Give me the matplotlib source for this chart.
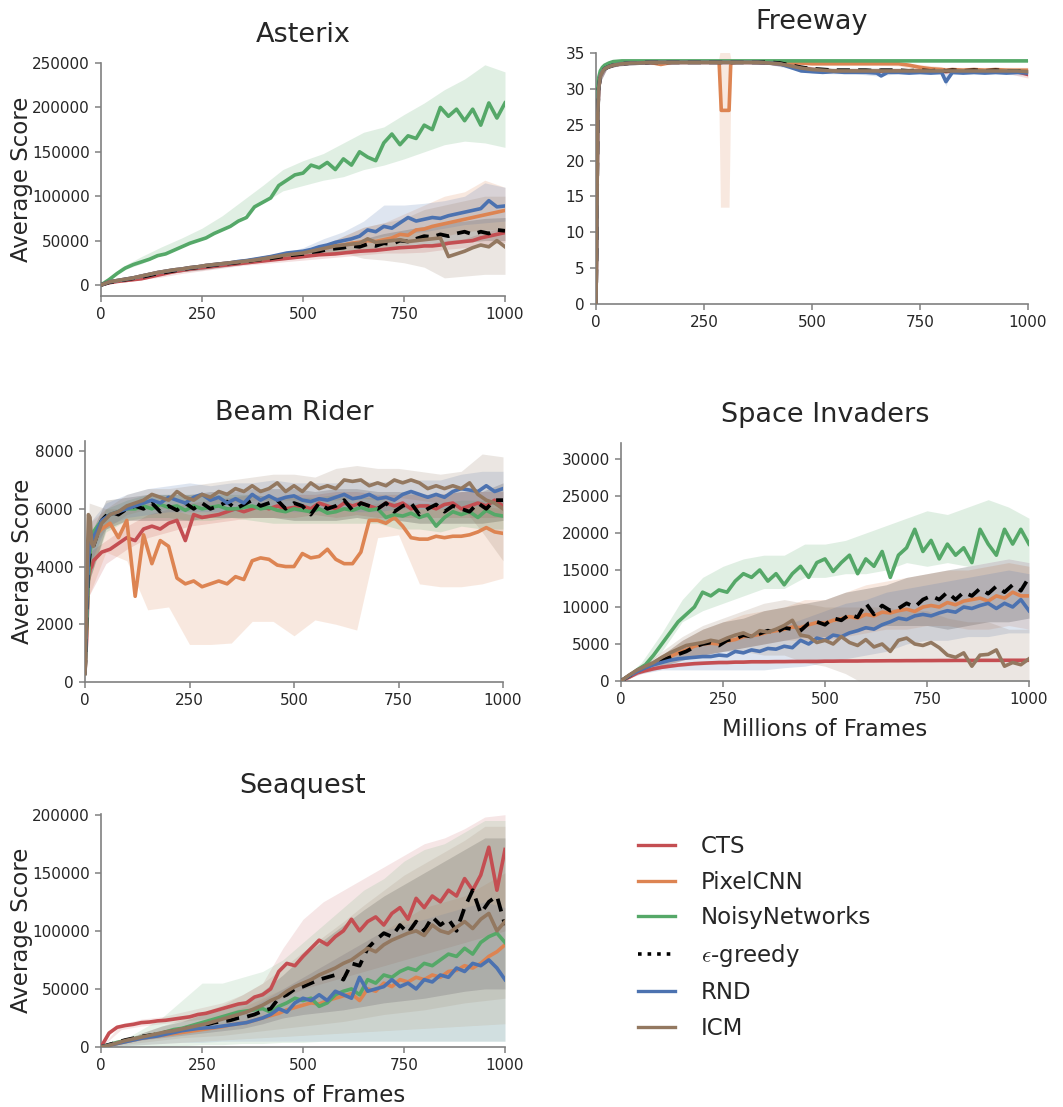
import numpy as np
import matplotlib.pyplot as plt
from matplotlib.lines import Line2D

plt.rcParams['mathtext.fontset'] = 'cm'

# ── Colours (seaborn "deep") ──
C_CTS = '#C44E52'
C_PIX = '#DD8452'
C_NOISY = '#55A868'
C_EPS = '#000000'
C_RND = '#4C72B0'
C_ICM = '#937860'
COLORS = [C_CTS, C_PIX, C_NOISY, C_EPS, C_RND, C_ICM]
LABELS = ['CTS', 'PixelCNN', 'NoisyNetworks', r'$\epsilon$-greedy', 'RND', 'ICM']

# ───────────────────────── Asterix (scores in thousands) ─────────────────────────
ast_frames = np.arange(0, 1001, 20)
ast_cts = [0, 2.5, 4, 5, 6, 7, 9, 11, 13, 15, 16.5, 18, 19, 20, 21, 22, 23, 24, 25, 26,
           27, 28, 29, 30, 31, 32, 33, 34, 34.5, 35, 36, 37, 38, 38.5, 39, 40, 41, 42, 42.5, 43,
           44, 44, 45, 47, 48, 49, 50, 53, 55, 57, 59]
ast_pix = [0, 3.5, 5, 6.5, 8, 10, 12, 14, 15.5, 17, 18, 19.5, 20.5, 22, 23, 24, 25, 26, 27, 28.5,
           30, 31.5, 33, 34.5, 36, 37, 39, 41, 42, 44, 45, 47, 48, 50, 49, 51, 53, 57, 56, 62,
           63, 66, 68, 70, 72, 74, 76, 78, 80, 82, 84]
ast_noisy = [0, 6, 13, 19, 23, 26, 29, 33, 35, 39, 43, 47, 50, 53, 58, 62, 66, 72, 76, 88,
             93, 98, 112, 118, 124, 126, 135, 132, 138, 130, 142, 135, 150, 144, 140, 160, 170, 158, 168, 165,
             180, 175, 200, 190, 198, 185, 198, 180, 205, 188, 205]
ast_eps = [0, 3, 4.5, 6, 7.5, 9, 11, 13, 14.5, 16, 17.5, 19, 20, 21, 22.5, 23.5, 24.5, 25.5, 26.5, 28,
           29, 30, 31.5, 33, 34, 35, 37, 38, 40, 41, 42, 44, 43, 46, 44, 47, 46, 50, 49, 52,
           55, 54, 57, 55, 58, 60, 57, 60, 58, 62, 61]
ast_rnd = [0, 3.5, 5, 6.5, 8, 10, 12, 14, 15.5, 17, 18, 19.5, 20.5, 22, 23, 24, 25, 26.5, 27.5, 29,
           30.5, 32, 34, 36, 37, 38, 40, 43, 45, 48, 50, 52, 55, 62, 60, 66, 64, 70, 76, 72,
           74, 76, 75, 78, 80, 82, 84, 86, 95, 88, 89]
ast_icm = [0, 3.5, 5, 6.5, 8, 10, 12, 14, 15.5, 17, 18, 19.5, 20.5, 22, 23, 24, 25, 26, 27, 28,
           29.5, 31, 32.5, 34, 35, 36, 38, 40, 42, 44, 45, 46, 47, 52, 48, 49, 50, 51, 49, 50,
           51, 52, 53, 32, 35, 38, 42, 45, 43, 50, 43]
ast_band_frames = np.arange(0, 1001, 50)
ast_cts_lo = [0, 3, 6, 9, 13, 16, 19, 22, 24, 26, 28, 30, 32, 34, 36, 36, 37, 40, 42, 45, 48]
ast_cts_hi = [0, 5, 9, 13, 17, 20, 23, 26, 28, 30, 33, 36, 38, 40, 42, 44, 45, 50, 52, 60, 64]
ast_pix_lo = [0, 4, 8, 12, 15, 18, 21, 24, 27, 30, 32, 35, 38, 40, 42, 46, 50, 55, 60, 62, 62]
ast_pix_hi = [0, 7, 13, 17, 20, 23, 26, 29, 32, 36, 40, 44, 55, 65, 70, 80, 90, 100, 105, 118, 110]
ast_noisy_lo = [0, 16, 24, 34, 44, 52, 64, 78, 92, 106, 112, 118, 122, 130, 135, 142, 150, 158, 162, 160, 155]
ast_noisy_hi = [0, 20, 32, 43, 53, 64, 78, 95, 112, 130, 140, 148, 160, 172, 178, 192, 205, 220, 232, 248, 240]
ast_eps_lo = [0, 4, 8, 12, 15, 17, 20, 23, 26, 29, 31, 34, 36, 38, 40, 42, 45, 47, 48, 50, 50]
ast_eps_hi = [0, 6, 12, 16, 19, 22, 25, 28, 31, 34, 37, 42, 48, 52, 58, 62, 66, 70, 72, 75, 76]
ast_rnd_lo = [0, 4, 8, 12, 15, 18, 21, 24, 27, 30, 33, 38, 42, 50, 55, 58, 60, 64, 68, 70, 72]
ast_rnd_hi = [0, 7, 13, 17, 20, 23, 26, 29, 32, 36, 42, 52, 60, 72, 90, 90, 92, 95, 100, 115, 110]
ast_icm_lo = [0, 4, 8, 12, 15, 18, 21, 24, 27, 30, 32, 34, 36, 30, 28, 25, 20, 8, 10, 12, 12]
ast_icm_hi = [0, 7, 13, 17, 20, 23, 26, 29, 32, 36, 40, 45, 55, 65, 70, 75, 85, 90, 95, 100, 100]

# ───────────────────────── Freeway ─────────────────────────
fw_frames = [0, 2, 4, 6, 10, 15, 20, 30, 40, 60, 80, 100, 125, 150, 175, 200, 225, 250, 275, 285,
             290, 300, 308, 312, 325, 350, 375, 400, 425, 450, 475, 500, 525, 550, 575, 600, 625, 650, 660, 675,
             700, 725, 750, 775, 800, 810, 825, 850, 875, 900, 925, 950, 975, 1000]
fw_cts = [0, 12, 26, 30, 31.8, 32.4, 32.8, 33.1, 33.3, 33.5, 33.6, 33.6, 33.7, 33.7, 33.7, 33.7, 33.7, 33.7, 33.7, 33.7,
          33.7, 33.7, 33.7, 33.7, 33.7, 33.7, 33.7, 33.6, 33.5, 33.2, 32.9, 32.7, 32.6, 32.5, 32.5, 32.5, 32.5, 32.4, 32.5, 32.5,
          32.5, 32.4, 32.5, 32.4, 32.5, 32.4, 32.5, 32.4, 32.5, 32.4, 32.5, 32.4, 32.4, 32.0]
fw_pix = [0, 12, 26, 30, 31.8, 32.4, 32.8, 33.1, 33.3, 33.5, 33.6, 33.6, 33.7, 33.4, 33.7, 33.7, 33.7, 33.7, 33.7, 33.7,
          27.0, 27.0, 27.0, 33.6, 33.7, 33.7, 33.7, 33.7, 33.7, 33.6, 33.6, 33.5, 33.5, 33.5, 33.5, 33.5, 33.5, 33.5, 33.5, 33.5,
          33.5, 33.3, 33.0, 32.8, 32.7, 32.6, 32.7, 32.6, 32.7, 32.6, 32.7, 32.6, 32.6, 32.6]
fw_noisy = [0, 20, 30, 31.5, 32.5, 33.0, 33.3, 33.6, 33.8, 33.9, 33.9, 33.9, 33.9, 33.9, 33.9, 33.9, 33.9, 33.9, 33.9, 33.9,
            33.9, 33.9, 33.9, 33.9, 33.9, 33.9, 33.9, 33.9, 33.9, 33.9, 33.9, 33.9, 33.9, 33.9, 33.9, 33.9, 33.9, 33.9, 33.9, 33.9,
            33.9, 33.9, 33.9, 33.9, 33.9, 33.9, 33.9, 33.9, 33.9, 33.9, 33.9, 33.9, 33.9, 33.9]
fw_eps = [0, 12, 26, 30, 31.8, 32.4, 32.8, 33.1, 33.3, 33.5, 33.6, 33.6, 33.7, 33.7, 33.7, 33.7, 33.7, 33.7, 33.7, 33.7,
          33.7, 33.7, 33.7, 33.7, 33.7, 33.7, 33.7, 33.7, 33.6, 33.3, 33.0, 32.8, 32.7, 32.6, 32.6, 32.6, 32.6, 32.5, 32.6, 32.6,
          32.6, 32.5, 32.6, 32.5, 32.6, 32.5, 32.6, 32.5, 32.6, 32.5, 32.6, 32.5, 32.5, 32.4]
fw_rnd = [0, 12, 26, 30, 31.8, 32.4, 32.8, 33.1, 33.3, 33.5, 33.6, 33.6, 33.7, 33.7, 33.7, 33.7, 33.7, 33.7, 33.7, 33.7,
          33.7, 33.7, 33.7, 33.7, 33.7, 33.7, 33.7, 33.6, 33.5, 33.0, 32.5, 32.4, 32.3, 32.4, 32.3, 32.3, 32.3, 32.2, 31.8, 32.3,
          32.3, 32.2, 32.3, 32.2, 32.3, 31.0, 32.3, 32.2, 32.3, 32.2, 32.3, 32.2, 32.3, 32.2]
fw_icm = [0, 12, 26, 30, 31.8, 32.4, 32.8, 33.1, 33.3, 33.5, 33.6, 33.6, 33.7, 33.7, 33.7, 33.7, 33.7, 33.7, 33.7, 33.7,
          33.7, 33.7, 33.7, 33.7, 33.7, 33.7, 33.7, 33.6, 33.5, 33.2, 32.9, 32.7, 32.6, 32.5, 32.5, 32.5, 32.5, 32.5, 32.5, 32.5,
          32.5, 32.5, 32.5, 32.5, 32.5, 32.5, 32.5, 32.5, 32.5, 32.5, 32.5, 32.5, 32.5, 32.4]
fw_band_frames = [0, 5, 10, 25, 50, 100, 150, 200, 250, 283, 288, 308, 313, 350, 400,
                  450, 500, 550, 600, 650, 700, 750, 800, 810, 820, 850, 900, 950, 1000]
fw_cts_lo = [0, 25, 31, 32.8, 33.2, 33.4, 33.5, 33.5, 33.5, 33.5, 33.5, 33.5, 33.5, 33.5, 33.4,
             33.0, 32.4, 32.3, 32.3, 32.3, 32.3, 32.2, 32.2, 32.2, 32.2, 32.2, 32.2, 32.2, 31.5]
fw_cts_hi = [0, 31, 32.5, 33.5, 33.8, 33.9, 33.9, 33.9, 33.9, 33.9, 33.9, 33.9, 33.9, 33.9, 33.9,
             33.6, 33.0, 32.8, 32.8, 32.8, 32.8, 32.8, 32.8, 32.8, 32.8, 32.8, 32.8, 32.8, 32.8]
fw_pix_lo = [0, 25, 31.5, 33, 33.4, 33.5, 33.3, 33.5, 33.5, 33.5, 13.5, 13.5, 33.5, 33.5, 33.5,
             33.4, 33.3, 33.3, 33.3, 33.3, 33.2, 32.6, 32.3, 32.3, 32.3, 32.3, 32.3, 32.3, 32.2]
fw_pix_hi = [0, 31, 32.8, 33.6, 33.9, 33.9, 33.9, 33.9, 33.9, 33.9, 35.5, 35.5, 33.9, 33.9, 33.9,
             33.9, 33.8, 33.8, 33.8, 33.8, 33.7, 33.4, 33.1, 33.0, 33.0, 33.0, 33.0, 33.0, 33.0]
fw_noisy_lo = [0, 28, 32, 33.4, 33.7, 33.8, 33.8, 33.8, 33.8, 33.8, 33.8, 33.8, 33.8, 33.8, 33.8,
               33.8, 33.8, 33.8, 33.8, 33.8, 33.8, 33.8, 33.8, 33.8, 33.8, 33.8, 33.8, 33.8, 33.8]
fw_noisy_hi = [0, 32, 33.2, 33.8, 34.0, 34.0, 34.0, 34.0, 34.0, 34.0, 34.0, 34.0, 34.0, 34.0, 34.0,
               34.0, 34.0, 34.0, 34.0, 34.0, 34.0, 34.0, 34.0, 34.0, 34.0, 34.0, 34.0, 34.0, 34.0]
fw_eps_lo = [0, 25, 31, 32.8, 33.2, 33.4, 33.5, 33.5, 33.5, 33.5, 33.5, 33.5, 33.5, 33.5, 33.4,
             33.0, 32.5, 32.4, 32.4, 32.4, 32.4, 32.3, 32.3, 32.3, 32.3, 32.3, 32.3, 32.3, 32.2]
fw_eps_hi = [0, 31, 32.5, 33.5, 33.8, 33.9, 33.9, 33.9, 33.9, 33.9, 33.9, 33.9, 33.9, 33.9, 33.9,
             33.6, 33.1, 32.9, 32.9, 32.9, 32.9, 32.9, 32.9, 32.9, 32.9, 32.9, 32.9, 32.9, 32.7]
fw_rnd_lo = [0, 25, 31, 32.8, 33.2, 33.4, 33.5, 33.5, 33.5, 33.5, 33.5, 33.5, 33.5, 33.5, 33.4,
             32.8, 32.2, 32.1, 32.1, 31.8, 32.1, 32.0, 32.0, 30.4, 32.0, 32.0, 32.0, 32.0, 31.9]
fw_rnd_hi = [0, 31, 32.5, 33.5, 33.8, 33.9, 33.9, 33.9, 33.9, 33.9, 33.9, 33.9, 33.9, 33.9, 33.9,
             33.4, 32.7, 32.6, 32.6, 32.6, 32.6, 32.6, 32.6, 32.4, 32.6, 32.6, 32.6, 32.6, 32.5]
fw_icm_lo = [0, 25, 31, 32.8, 33.2, 33.4, 33.5, 33.5, 33.5, 33.5, 33.5, 33.5, 33.5, 33.5, 33.4,
             33.0, 32.4, 32.3, 32.3, 32.3, 32.3, 32.3, 32.3, 32.3, 32.3, 32.3, 32.3, 32.3, 32.2]
fw_icm_hi = [0, 31, 32.5, 33.5, 33.8, 33.9, 33.9, 33.9, 33.9, 33.9, 33.9, 33.9, 33.9, 33.9, 33.9,
             33.5, 32.9, 32.8, 32.8, 32.8, 32.8, 32.8, 32.8, 32.8, 32.8, 32.8, 32.8, 32.8, 32.7]

# ───────────────────────── Beam Rider ─────────────────────────
br_frames = [0, 4, 8, 12, 16] + list(range(20, 1001, 20))
br_cts = [300, 1500, 3500, 3900, 4000, 4200, 4500, 4600, 4800, 5000, 4900, 5300, 5400, 5300, 5500,
          5600, 4900, 5800, 5700, 5750, 5800, 5900, 6000, 5900, 6000, 6100, 6000, 6100, 6000, 6050,
          6100, 6000, 6200, 6100, 6000, 6200, 6100, 6200, 6100, 6000, 6200, 6100, 6200, 6000, 6100,
          6100, 6000, 6150, 6200, 6000, 6100, 6200, 6100, 6300, 6100]
br_pix = [300, 2000, 4000, 4600, 4800, 5000, 5300, 5500, 5000, 5600, 2970, 5100, 4100, 4900, 4700,
          3600, 3400, 3500, 3300, 3400, 3500, 3400, 3650, 3550, 4200, 4300, 4250, 4050, 4000, 4000,
          4450, 4300, 4350, 4600, 4250, 4100, 4100, 4500, 5600, 5600, 5500, 5700, 5400, 5000, 4950,
          4950, 5050, 5000, 5050, 5050, 5100, 5200, 5350, 5200, 5150]
br_noisy = [300, 2000, 3500, 4500, 5000, 5200, 5600, 5800, 5900, 6000, 6000, 6100, 6000, 6150, 6050,
            6100, 5950, 6100, 6000, 6050, 6100, 6000, 6000, 6050, 6100, 6000, 6050, 5950, 5900, 6000,
            5950, 5900, 6000, 5850, 5900, 6000, 5950, 6050, 5950, 6000, 5700, 5800, 5750, 5850, 5700,
            5800, 5400, 5700, 5900, 5800, 5900, 5700, 5950, 5800, 5750]
br_eps = [300, 2500, 4000, 4500, 4600, 4700, 5600, 5900, 5800, 6000, 6100, 6000, 6200, 5900, 6100,
          5950, 6200, 6000, 6200, 6000, 6100, 6250, 6000, 6150, 6300, 6100, 6200, 6300, 6000, 6200,
          6100, 5800, 6200, 6000, 6100, 6300, 5950, 6200, 6100, 6000, 6200, 5900, 6100, 6200, 5800,
          6000, 6150, 5900, 6100, 6000, 5900, 6200, 6000, 6300, 6300]
br_rnd = [300, 2500, 4200, 4800, 4900, 5000, 5600, 5800, 5900, 6000, 6100, 6200, 6300, 6200, 6400,
          6300, 6200, 6400, 6500, 6300, 6400, 6200, 6350, 6200, 6500, 6300, 6450, 6300, 6400, 6450,
          6300, 6250, 6350, 6300, 6400, 6500, 6350, 6400, 6500, 6350, 6400, 6300, 6500, 6600, 6500,
          6400, 6500, 6400, 6600, 6700, 6650, 6600, 6800, 6600, 6700]
br_icm = [300, 3000, 5800, 5700, 4800, 4700, 5500, 5800, 5900, 6100, 6200, 6300, 6500, 6400, 6300,
          6600, 6400, 6300, 6500, 6400, 6600, 6500, 6700, 6600, 6800, 6600, 6700, 6900, 6600, 6800,
          6600, 6900, 6700, 6800, 6700, 7000, 6950, 7000, 6800, 6900, 6800, 7000, 6900, 7000, 6900,
          6700, 6800, 6700, 6800, 6700, 6900, 6500, 6300, 6200, 6000]
br_band_frames = [0, 10] + list(range(50, 1001, 50))
br_cts_lo = [200, 3000, 4100, 4600, 5000, 5200, 5400, 5500, 5600, 5700, 5700, 5700, 5800, 5700, 5800,
             5700, 5700, 5700, 5700, 5700, 5700, 5700]
br_cts_hi = [500, 4500, 4900, 5400, 5800, 6000, 6200, 6300, 6400, 6500, 6400, 6500, 6500, 6600, 6600,
             6500, 6500, 6500, 6500, 6600, 6600, 6600]
br_pix_lo = [200, 3000, 4500, 4200, 2500, 2600, 1300, 1300, 1350, 2100, 2100, 1600, 2150, 2000, 1800,
             5000, 5100, 3400, 3300, 3300, 3400, 3600]
br_pix_hi = [500, 5500, 6000, 6000, 6200, 6000, 5800, 5800, 5900, 6000, 6000, 6100, 6000, 6100, 6000,
             6200, 6200, 6000, 6000, 6100, 6100, 6000]
br_noisy_lo = [200, 3500, 5200, 5600, 5700, 5700, 5600, 5600, 5700, 5600, 5500, 5500, 5500, 5500, 5500,
               5500, 5300, 5300, 5200, 5400, 5300, 5300]
br_noisy_hi = [500, 5000, 6000, 6300, 6500, 6500, 6500, 6500, 6500, 6500, 6400, 6400, 6400, 6500, 6400,
               6400, 6200, 6200, 6200, 6300, 6300, 6300]
br_eps_lo = [200, 3500, 5300, 5600, 5600, 5600, 5600, 5700, 5700, 5700, 5700, 5600, 5600, 5600, 5700,
             5600, 5600, 5500, 5500, 5500, 5500, 5600]
br_eps_hi = [500, 5000, 6300, 6400, 6500, 6500, 6500, 6600, 6600, 6700, 6700, 6700, 6600, 6700, 6700,
             6600, 6600, 6500, 6500, 6600, 6600, 6900]
br_rnd_lo = [200, 4000, 5400, 5700, 5800, 5900, 5900, 5900, 5900, 6000, 6000, 5900, 5900, 6000, 5900,
             5900, 6000, 6000, 6000, 6100, 6100, 6200]
br_rnd_hi = [500, 5500, 6200, 6500, 6700, 6800, 6900, 6800, 6900, 6900, 7000, 6900, 6900, 6900, 7000,
             6900, 7000, 7000, 7000, 7200, 7300, 7300]
br_icm_lo = [200, 4500, 5300, 5800, 6000, 6000, 6100, 6100, 6200, 6300, 6300, 6300, 6300, 6300, 6400,
             6300, 6400, 6300, 6200, 6100, 5200, 4200]
br_icm_hi = [500, 6200, 6000, 6500, 6700, 6700, 6800, 6900, 7000, 7100, 7200, 7200, 7100, 7400, 7500,
             7400, 7400, 7300, 7200, 7300, 7900, 7800]

# ───────────────────────── Space Invaders ─────────────────────────
si_frames = np.arange(0, 1001, 20)
si_cts = [0, 500, 1100, 1400, 1650, 1850, 2000, 2150, 2250, 2350, 2400, 2450, 2500, 2500, 2550, 2550, 2600, 2600, 2600, 2620,
          2620, 2640, 2640, 2650, 2650, 2680, 2680, 2700, 2700, 2700, 2720, 2720, 2730, 2740, 2740, 2750, 2750, 2760, 2760, 2770,
          2770, 2780, 2780, 2780, 2790, 2790, 2790, 2800, 2800, 2800, 2800]
si_pix = [0, 700, 1400, 1900, 2300, 2800, 3300, 3800, 4200, 4700, 5000, 5100, 5000, 5400, 5600, 6000, 6100, 6300, 6600, 6800,
          7000, 7300, 7200, 7600, 7900, 7800, 8200, 8400, 8700, 8500, 9000, 8800, 9300, 9200, 9500, 9700, 9400, 10000, 10200, 10000,
          10600, 10300, 10800, 11000, 11200, 10800, 11500, 11200, 12000, 11500, 11500]
si_noisy = [0, 700, 1500, 2200, 3500, 5000, 6500, 8000, 9000, 10000, 12000, 11500, 12300, 12000, 13500, 14500, 14000, 15000, 13500, 14500,
            13000, 14500, 15500, 14000, 16000, 16500, 14800, 16000, 17000, 14500, 16500, 15500, 17500, 14000, 17000, 18000, 20500, 17500, 19000, 16500,
            18500, 17000, 18000, 16000, 20500, 18500, 17000, 20500, 18500, 20500, 18500]
si_eps = [0, 700, 1400, 1900, 2300, 2800, 3200, 3600, 4000, 4600, 5000, 5200, 4800, 5500, 5700, 6200, 6000, 6400, 6800, 6500,
          7200, 7000, 6800, 7800, 8000, 7600, 8500, 8200, 9000, 8600, 10500, 9000, 10200, 9500, 9800, 10500, 10000, 11000, 11500, 11000,
          12000, 11000, 12000, 11500, 12500, 11800, 12800, 12000, 13000, 12200, 14000]
si_rnd = [0, 700, 1300, 1800, 2200, 2500, 2800, 3000, 3100, 3200, 3300, 3300, 3500, 3400, 4000, 3800, 4200, 4000, 4400, 4300,
          4700, 4500, 5500, 5000, 5800, 5500, 6200, 6000, 6500, 6800, 7200, 7000, 7600, 8000, 8500, 8300, 8800, 9000, 8800, 9200,
          9500, 9300, 10000, 9800, 10200, 10500, 9800, 10500, 10000, 11000, 9500]
si_icm = [0, 800, 1500, 2000, 2500, 3200, 3800, 4300, 4800, 5000, 5200, 5500, 5300, 5800, 6200, 6500, 6000, 6800, 6600, 7000,
          7500, 8200, 6200, 6000, 5200, 5500, 5000, 6000, 5200, 4800, 5600, 4600, 5000, 4000, 5500, 5800, 5000, 4800, 5200, 4500,
          3500, 3200, 3800, 2000, 3500, 3600, 4200, 2000, 2500, 2200, 3000]
si_band_frames = np.arange(0, 1001, 50)
si_cts_lo = [0, 1000, 1700, 2000, 2200, 2300, 2400, 2450, 2500, 2550, 2600, 2600, 2650, 2650, 2650, 2700, 2700, 2700, 2700, 2700, 2700]
si_cts_hi = [0, 1500, 2200, 2500, 2700, 2800, 2800, 2850, 2850, 2900, 2900, 2900, 2900, 2950, 2950, 2950, 2950, 2950, 2950, 2950, 2950]
si_pix_lo = [0, 1300, 2000, 2800, 3500, 4000, 4500, 5000, 5500, 5500, 5500, 6000, 6500, 7000, 7000, 7500, 7500, 7000, 7000, 7500, 7000]
si_pix_hi = [0, 2000, 3500, 5500, 7000, 8000, 9000, 9500, 10000, 11000, 11000, 12000, 13000, 13500, 14000, 14500, 15000, 15000, 15500, 16000, 15500]
si_noisy_lo = [0, 1500, 4000, 8000, 9500, 10500, 11500, 12500, 12500, 14000, 14000, 14500, 14500, 15000, 16000, 15500, 16000, 15500, 16000, 16500, 16000]
si_noisy_hi = [0, 2500, 6500, 11000, 14000, 15500, 16500, 17000, 17000, 18500, 18500, 19000, 20000, 21000, 22000, 23000, 22500, 23500, 24500, 23500, 22000]
si_eps_lo = [0, 1300, 2000, 2800, 3500, 4000, 4500, 5000, 5500, 6000, 6000, 6500, 7000, 7500, 7500, 7500, 7000, 7500, 8000, 8000, 8500]
si_eps_hi = [0, 2000, 3500, 5500, 7000, 8000, 8500, 9500, 10000, 10500, 11000, 12000, 12500, 13000, 14000, 14500, 15000, 15500, 16000, 16500, 16000]
si_rnd_lo = [0, 1000, 1500, 1500, 1500, 1500, 1500, 1500, 1800, 2000, 2500, 3000, 3500, 4000, 5000, 5500, 5500, 6000, 6000, 6500, 6500]
si_rnd_hi = [0, 1800, 3500, 4500, 5000, 5500, 6000, 6500, 7500, 8500, 9500, 10500, 11000, 12000, 12500, 13000, 13500, 14000, 14500, 15000, 14500]
si_icm_lo = [0, 1400, 2500, 3000, 3500, 4000, 4000, 3500, 3500, 2500, 2000, 1000, -500, -2000, -2000, -2000, -2000, -2000, -2000, -2000, -2000]
si_icm_hi = [0, 2000, 4000, 6000, 7500, 8500, 9500, 10500, 11000, 10500, 10000, 10000, 10000, 10000, 9500, 9500, 8500, 8000, 8000, 7000, 7000]

# ───────────────────────── Seaquest (scores in thousands) ─────────────────────────
sq_frames = np.arange(0, 1001, 20)
sq_cts = [0, 12, 17, 18.5, 19.5, 21, 21.5, 22.5, 23, 24, 25, 26, 28, 29, 31, 33, 35, 37, 38, 43,
          45, 50, 65, 72, 70, 78, 85, 92, 88, 95, 100, 110, 100, 108, 112, 105, 115, 120, 110, 128,
          120, 130, 125, 135, 130, 145, 135, 148, 172, 135, 170]
sq_pix = [0, 1.5, 3, 4.5, 6, 7.5, 8.5, 9.5, 10.5, 11.5, 12.5, 13.5, 14.5, 15.5, 16.5, 17.5, 19, 20, 21, 23,
          25, 27, 29, 32, 34, 36, 38, 37, 40, 42, 44, 46, 40, 50, 48, 55, 52, 58, 56, 60,
          58, 62, 60, 65, 66, 70, 68, 72, 78, 82, 88]
sq_noisy = [0, 2, 4, 5.5, 7, 8.5, 10, 11, 13, 15, 16, 18, 20, 22, 24, 26, 28, 30, 31, 32,
            33, 30, 35, 38, 42, 40, 42, 35, 38, 45, 48, 50, 45, 58, 55, 62, 60, 65, 68, 66,
            72, 70, 75, 80, 78, 85, 80, 90, 95, 98, 90]
sq_eps = [0, 2, 4, 6, 7.5, 9, 10, 11, 12.5, 13.5, 15, 16.5, 17, 19, 21, 22, 23, 25, 26, 28,
          31, 33, 42, 45, 50, 52, 55, 58, 60, 62, 58, 72, 70, 85, 92, 98, 95, 105, 98, 108,
          100, 112, 105, 110, 100, 120, 135, 115, 125, 130, 105]
sq_rnd = [0, 1.5, 3, 4.5, 6, 7.5, 8.5, 9.5, 11, 12.5, 14, 15, 16, 16.5, 17, 18, 19, 20, 21, 23,
          25, 28, 33, 30, 38, 42, 40, 45, 40, 48, 45, 42, 60, 48, 50, 52, 58, 52, 55, 50,
          58, 56, 62, 60, 68, 65, 72, 70, 75, 68, 58]
sq_icm = [0, 1.5, 3.5, 5.5, 7, 8.5, 10, 11.5, 13, 14, 15.5, 17, 18.5, 20, 22, 24, 26, 28, 30, 33,
          36, 40, 43, 48, 52, 55, 58, 62, 65, 68, 72, 75, 80, 85, 82, 88, 92, 95, 98, 100,
          96, 105, 100, 98, 103, 108, 102, 110, 115, 100, 108]
sq_band_frames = np.arange(0, 1001, 50)
sq_cts_lo = [0, 15, 18, 20, 22, 24, 26, 30, 35, 42, 50, 55, 60, 65, 70, 75, 80, 85, 90, 95, 100]
sq_cts_hi = [0, 20, 24, 26, 30, 34, 38, 45, 55, 85, 110, 125, 135, 145, 155, 165, 175, 180, 188, 198, 200]
sq_pix_lo = [0, 1, 2, 3, 4, 5, 6, 7, 8, 9, 10, 11, 12, 13, 14, 15, 16, 17, 18, 19, 20]
sq_pix_hi = [0, 3, 8, 13, 18, 22, 28, 34, 42, 50, 60, 70, 80, 90, 100, 110, 120, 125, 130, 140, 150]
sq_noisy_lo = [0, 0, 0, 0, 1, 2, 2, 3, 3, 4, 4, 5, 5, 5, 5, 5, 5, 5, 5, 5, 5]
sq_noisy_hi = [0, 5, 15, 25, 40, 55, 55, 60, 65, 75, 90, 105, 120, 135, 145, 160, 170, 175, 185, 195, 195]
sq_eps_lo = [0, 3, 6, 8, 10, 12, 14, 16, 20, 25, 28, 30, 32, 35, 38, 40, 42, 45, 48, 50, 50]
sq_eps_hi = [0, 5, 12, 18, 22, 28, 32, 38, 48, 62, 78, 92, 105, 118, 130, 140, 150, 160, 170, 180, 180]
sq_rnd_lo = [0, 1, 2, 3, 4, 4, 5, 5, 5, 5, 5, 5, 5, 5, 5, 5, 5, 5, 5, 5, 5]
sq_rnd_hi = [0, 3, 7, 11, 15, 20, 25, 30, 40, 50, 60, 70, 80, 90, 100, 105, 110, 115, 120, 125, 120]
sq_icm_lo = [0, 2, 4, 6, 8, 9, 10, 12, 14, 16, 18, 20, 22, 25, 28, 30, 32, 35, 38, 40, 42]
sq_icm_hi = [0, 5, 12, 18, 24, 30, 36, 45, 55, 68, 82, 95, 108, 122, 135, 148, 158, 168, 178, 190, 190]

TICK_COL = '#262626'
SPINE_COL = '#808080'


def draw(rect, frames, means, band_frames, los, his, title, ylim, yticks,
         scale=1.0, ylabel=None, ylabel_x=None, xlabel=False, band_alpha=0.18, title_pad=15):
    ax = fig.add_axes(rect)
    for m, lo, hi, c in zip(means, los, his, COLORS):
        ax.fill_between(band_frames, np.array(lo) * scale, np.array(hi) * scale,
                        color=c, alpha=band_alpha, linewidth=0)
    for m, c in zip(means, COLORS):
        if c == C_EPS:
            ax.plot(frames, np.array(m) * scale, color=c, lw=2.7, ls=(0, (3.5, 2.2)), zorder=3)
        else:
            ax.plot(frames, np.array(m) * scale, color=c, lw=2.6, zorder=3)
    ax.set_xlim(0, 1000)
    ax.set_ylim(*ylim)
    ax.set_xticks([0, 250, 500, 750, 1000])
    ax.set_yticks(yticks)
    for s in ['top', 'right']:
        ax.spines[s].set_visible(False)
    for s in ['left', 'bottom']:
        ax.spines[s].set_color(SPINE_COL)
        ax.spines[s].set_linewidth(1.2)
    ax.tick_params(direction='out', length=4.5, width=1.1, color=SPINE_COL,
                   labelcolor=TICK_COL, labelsize=11)
    ax.set_title(title, fontsize=19.5, color=TICK_COL, pad=title_pad)
    if ylabel:
        ax.set_ylabel(ylabel, fontsize=16.5, color=TICK_COL)
        ax.yaxis.set_label_coords(ylabel_x, 0.5)
    if xlabel:
        ax.set_xlabel('Millions of Frames', fontsize=16.5, color=TICK_COL, labelpad=8)
    return ax


W, H = 1063, 1107
fig = plt.figure(figsize=(W / 100, H / 100), dpi=100, facecolor='white')


def px(l, r, t, b):
    return [l / W, 1 - b / H, (r - l) / W, (b - t) / H]


draw(px(101, 505, 63, 296), ast_frames,
     [ast_cts, ast_pix, ast_noisy, ast_eps, ast_rnd, ast_icm], ast_band_frames,
     [ast_cts_lo, ast_pix_lo, ast_noisy_lo, ast_eps_lo, ast_rnd_lo, ast_icm_lo],
     [ast_cts_hi, ast_pix_hi, ast_noisy_hi, ast_eps_hi, ast_rnd_hi, ast_icm_hi],
     'Asterix', (-12400, 250000), [0, 50000, 100000, 150000, 200000, 250000],
     scale=1000, ylabel='Average Score', ylabel_x=-0.168)

draw(px(596, 1028, 53, 304), fw_frames,
     [fw_cts, fw_pix, fw_noisy, fw_eps, fw_rnd, fw_icm], fw_band_frames,
     [fw_cts_lo, fw_pix_lo, fw_noisy_lo, fw_eps_lo, fw_rnd_lo, fw_icm_lo],
     [fw_cts_hi, fw_pix_hi, fw_noisy_hi, fw_eps_hi, fw_rnd_hi, fw_icm_hi],
     'Freeway', (0, 35), [0, 5, 10, 15, 20, 25, 30, 35], title_pad=17)

draw(px(85, 503, 441, 682), br_frames,
     [br_cts, br_pix, br_noisy, br_eps, br_rnd, br_icm], br_band_frames,
     [br_cts_lo, br_pix_lo, br_noisy_lo, br_eps_lo, br_rnd_lo, br_icm_lo],
     [br_cts_hi, br_pix_hi, br_noisy_hi, br_eps_hi, br_rnd_hi, br_icm_hi],
     'Beam Rider', (0, 8350), [0, 2000, 4000, 6000, 8000],
     ylabel='Average Score', ylabel_x=-0.122)

draw(px(621, 1029, 443, 681), si_frames,
     [si_cts, si_pix, si_noisy, si_eps, si_rnd, si_icm], si_band_frames,
     [si_cts_lo, si_pix_lo, si_noisy_lo, si_eps_lo, si_rnd_lo, si_icm_lo],
     [si_cts_hi, si_pix_hi, si_noisy_hi, si_eps_hi, si_rnd_hi, si_icm_hi],
     'Space Invaders', (0, 32160), [0, 5000, 10000, 15000, 20000, 25000, 30000],
     xlabel=True)

draw(px(101, 505, 814, 1047), sq_frames,
     [sq_cts, sq_pix, sq_noisy, sq_eps, sq_rnd, sq_icm], sq_band_frames,
     [sq_cts_lo, sq_pix_lo, sq_noisy_lo, sq_eps_lo, sq_rnd_lo, sq_icm_lo],
     [sq_cts_hi, sq_pix_hi, sq_noisy_hi, sq_eps_hi, sq_rnd_hi, sq_icm_hi],
     'Seaquest', (0, 200600), [0, 50000, 100000, 150000, 200000],
     scale=1000, ylabel='Average Score', ylabel_x=-0.168, xlabel=True, band_alpha=0.14)

# ── Legend in the empty bottom-right cell ──
handles = []
for c, lab in zip(COLORS, LABELS):
    if c == C_EPS:
        handles.append(Line2D([], [], color=c, lw=2.6, ls=':', label=lab))
    else:
        handles.append(Line2D([], [], color=c, lw=2.4, label=lab))
fig.legend(handles=handles, loc='upper left', bbox_to_anchor=(638 / W, 1 - 835 / H),
           frameon=False, fontsize=16.5, handlelength=1.6, handletextpad=1.15,
           labelspacing=0.55, borderpad=0, borderaxespad=0, labelcolor=TICK_COL)

plt.savefig('out.png', dpi=100, facecolor='white')
